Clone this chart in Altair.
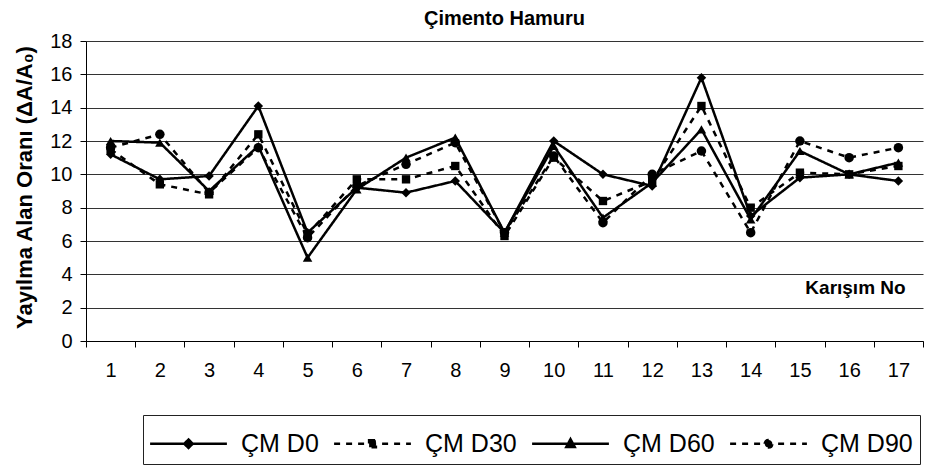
import altair as alt
import pandas as pd

categories = [str(i) for i in range(1, 18)]
series_names = ["ÇM D0", "ÇM D30", "ÇM D60", "ÇM D90"]

cm_d0 = [11.2, 9.7, 9.9, 14.1, 6.5, 9.2, 8.9, 9.6, 6.5, 12.0, 10.0, 9.3, 15.8, 7.5, 9.8, 10.0, 9.6]
cm_d30 = [11.5, 9.4, 8.8, 12.4, 6.4, 9.7, 9.7, 10.5, 6.3, 11.0, 8.4, 9.6, 14.1, 8.0, 10.1, 10.0, 10.5]
cm_d60 = [12.0, 11.9, 9.0, 11.7, 5.0, 9.1, 11.0, 12.2, 6.5, 11.7, 7.4, 9.5, 12.7, 7.3, 11.4, 10.0, 10.7]
cm_d90 = [11.6, 12.4, 8.9, 11.6, 6.2, 9.3, 10.6, 11.9, 6.5, 11.1, 7.1, 10.0, 11.4, 6.5, 12.0, 11.0, 11.6]

y_ticks = list(range(0, 19, 2))

rows = []
for name, vals in zip(series_names, [cm_d0, cm_d30, cm_d60, cm_d90]):
    for c, v in zip(categories, vals):
        rows.append({"karisim": c, "oran": v, "seri": name})
df = pd.DataFrame(rows)

SANS = "Liberation Sans, Arial, sans-serif"

dashes = [[1, 0], [6, 6], [1, 0], [6, 6]]
point_shapes = ["diamond", "square", "triangle-up", "circle"]
point_sizes = [90, 70, 90, 90]
# legend symbols: a line segment with the series marker in the middle
legend_paths = [
    "M-1.92,0H1.92M0,-0.21L0.21,0L0,0.21L-0.21,0Z",
    "M-1.92,0H1.92M-0.17,-0.17H0.17V0.17H-0.17Z",
    "M-1.92,0H1.92M0,-0.23L0.21,0.16L-0.21,0.16Z",
    "M-1.92,0H1.92M-0.19,0A0.19,0.19,0,1,1,0.19,0A0.19,0.19,0,1,1,-0.19,0Z",
]

x_enc = alt.X(
    "karisim:O",
    sort=categories,
    scale=alt.Scale(type="band", paddingInner=0, paddingOuter=0),
    axis=alt.Axis(
        title="Karışım No",
        labelAngle=0,
        tickBand="extent",
        grid=False,
        domainColor="black",
        tickColor="black",
        tickSize=6,
        labelFont=SANS,
        labelFontSize=20,
        labelColor="black",
        labelPadding=13,
        titleFont=SANS,
        titleFontSize=19,
        titleFontWeight="bold",
        titleColor="black",
        titleX=769,
        titleY=-54,
        titleAlign="center",
        titleBaseline="middle",
    ),
)

y_enc = alt.Y(
    "oran:Q",
    scale=alt.Scale(domain=[0, 18], nice=False),
    axis=alt.Axis(
        values=y_ticks,
        title="Yayılma Alan Oranı (ΔA/A₀)",
        grid=True,
        gridColor="#333333",
        gridWidth=1,
        gridOpacity=1,
        domainColor="black",
        tickColor="black",
        tickSize=6,
        labelFont=SANS,
        labelFontSize=20,
        labelColor="black",
        labelPadding=8,
        titleFont=SANS,
        titleFontSize=22,
        titleFontWeight="bold",
        titleColor="black",
        titleX=-62,
        titleY=146,
        titleAngle=270,
        titleAlign="center",
        titleBaseline="middle",
    ),
)

line_layers = []
point_layers = []
for name, dash, shp, sz in zip(series_names, dashes, point_shapes, point_sizes):
    base = alt.Chart(df).transform_filter(alt.datum.seri == name)
    line_layers.append(
        base.mark_line(color="black", strokeWidth=2.5, strokeDash=dash).encode(x=x_enc, y=y_enc)
    )
    point_layers.append(
        base.mark_point(shape=shp, filled=True, color="black", size=sz, opacity=1).encode(x=x_enc, y=y_enc)
    )

legend_def = alt.Legend(
    title=None,
    orient="none",
    legendX=57,
    legendY=374,
    direction="horizontal",
    columns=4,
    labelFont=SANS,
    labelFontSize=25,
    labelColor="black",
    labelLimit=400,
    labelOffset=31,
    symbolOffset=17,
    columnPadding=10,
    padding=7,
    strokeColor="#222222",
    fillColor="white",
    symbolStrokeWidth=2.5,
    symbolOpacity=1,
    symbolSize=1600,
    cornerRadius=0,
)

legend_layer = (
    alt.Chart(df)
    .transform_filter(alt.datum.oran < -1000)
    .mark_point(filled=False, fill="black", stroke="black", size=1600, strokeWidth=2.5, opacity=1)
    .encode(
        x=x_enc,
        y=y_enc,
        shape=alt.Shape("seri:N", scale=alt.Scale(domain=series_names, range=legend_paths), legend=legend_def),
        strokeDash=alt.StrokeDash("seri:N", scale=alt.Scale(domain=series_names, range=dashes), legend=legend_def),
    )
)

chart = alt.layer(*line_layers, *point_layers, legend_layer).properties(
    width=837,
    height=300,
    title=alt.TitleParams(
        "Çimento Hamuru",
        font=SANS,
        fontSize=20,
        fontWeight="bold",
        color="black",
        anchor="middle",
        offset=2,
    ),
    autosize=alt.AutoSizeParams(type="none"),
    padding={"left": 78, "top": 33, "right": 10, "bottom": 124},
    background="white",
).configure_view(stroke=None)

chart.save("out.html", embed_options={"renderer": "svg", "actions": False})
